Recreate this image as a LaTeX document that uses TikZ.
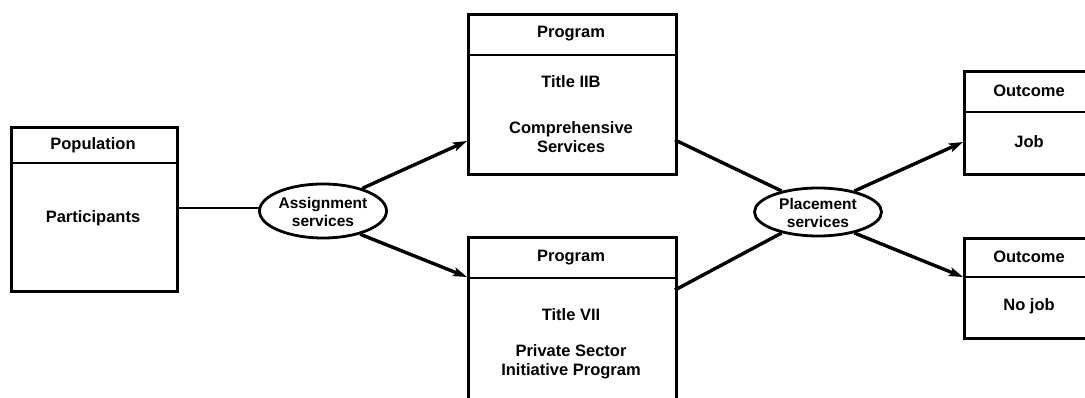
\documentclass[tikz,border=0pt]{standalone}
\usepackage{fontspec}
\setmainfont{Liberation Sans}
\usetikzlibrary{arrows.meta,shapes.geometric}
\begin{document}
\begin{tikzpicture}[x=1pt,y=-1pt,
  box/.style={draw,line width=2.8pt,rectangle,anchor=north west,inner sep=0pt},
  sep/.style={line width=2.5pt},
  oval/.style={draw,line width=2.8pt,ellipse,inner sep=0pt},
  txt/.style={inner sep=0pt,align=center,font=\bfseries\fontsize{16.5}{19.5}\selectfont},
  otxt/.style={inner sep=0pt,align=center,font=\bfseries\fontsize{15.5}{17.5}\selectfont},
  conn/.style={line width=3.4pt},
  arr/.style={line width=3.4pt,-{Stealth[length=14pt,width=9pt,inset=3pt]}},
]
\useasboundingbox (0,0) rectangle (1085,398);
\clip (0,0) rectangle (1085,398);
% Population
\node[box,minimum width=166pt,minimum height=164pt] (pop) at (10,126) {};
\draw[sep] (10,163) -- (176,163);
\node[txt] (popH) at (93,145) {Population};
\node[txt] (popB) at (93,218) {Participants};
% Assignment services
\node[oval,minimum width=127pt,minimum height=54pt] (asg) at (323,211) {};
\node[otxt] (asgT) at (323,212) {Assignment\\services};
% Program 1
\node[box,minimum width=208pt,minimum height=160pt] (p1) at (467,13) {};
\draw[sep] (467,55) -- (675,55);
\node[txt] (p1H) at (571,34) {Program};
\node[txt] (p1T) at (571,82) {Title IIB};
\node[txt] (p1B) at (571,137) {Comprehensive\\Services};
% Program 2
\node[box,minimum width=208pt,minimum height=200pt] (p2) at (467,236) {};
\draw[sep] (467,278) -- (675,278);
\node[txt] (p2H) at (571,258) {Program};
\node[txt] (p2T) at (571,315) {Title VII};
\node[txt] (p2B) at (571,362) {Private Sector\\Initiative Program};
% Placement services
\node[oval,minimum width=127pt,minimum height=48pt] (plc) at (818,212) {};
\node[otxt] (plcT) at (818,213) {Placement\\services};
% Outcome 1
\node[box,minimum width=160pt,minimum height=103pt] (o1) at (963,70) {};
\draw[sep] (963,112) -- (1120,112);
\node[txt] (o1H) at (1029,91) {Outcome};
\node[txt] (o1B) at (1029,142) {Job};
% Outcome 2
\node[box,minimum width=160pt,minimum height=100pt] (o2) at (963,237) {};
\draw[sep] (963,277) -- (1120,277);
\node[txt] (o2H) at (1029,257) {Outcome};
\node[txt] (o2B) at (1029,306) {No job};
% Connectors
\coordinate (popR) at (176,208);
\coordinate (asgL) at (261,208);
\draw[line width=2.6pt] (popR) -- (asgL);
\draw[arr] (asg.30) -- (467,141);
\draw[arr] (asg.-32) -- (467,277);
\draw[conn] (675,140) -- (plc.150);
\draw[conn] (675,290) -- (plc.-150);
\draw[arr] (plc.30) -- (963,142);
\draw[arr] (plc.-30) -- (963,277);
\end{tikzpicture}
\end{document}
